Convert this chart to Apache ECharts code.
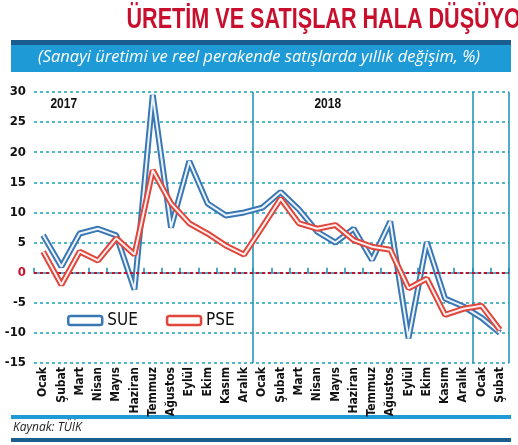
<!DOCTYPE html>
<html><head><meta charset="utf-8">
<script src="https://cdn.jsdelivr.net/npm/echarts@6/dist/echarts.min.js"></script>
<style>html,body{margin:0;padding:0;background:#fff}#c{width:518px;height:445px}</style>
</head><body><div id="c"></div>
<script>
const months = ['Ocak','Şubat','Mart','Nisan','Mayıs','Haziran','Temmuz','Ağustos','Eylül','Ekim','Kasım','Aralık',
 'Ocak','Şubat','Mart','Nisan','Mayıs','Haziran','Temmuz','Ağustos','Eylül','Ekim','Kasım','Aralık','Ocak','Şubat'];
const sue = [6.2,1,6.5,7.3,6.2,-2.8,29.5,7.5,18.5,11.5,9.5,10,10.8,13.4,10.5,6.8,5,7.3,2.1,8.5,-10.9,5.1,-4.3,-5.6,-7.5,-10];
const pse = [3.5,-2,3.5,2,5.7,3,17,11.5,8.2,6.5,4.5,3,7.6,12.3,8.2,7.3,7.9,5.4,4.3,3.8,-2.6,-1,-7,-6,-5.5,-9.5];
const yTicks = [-15,30,5];
const years = ['2017','2018','2019'];
const cond = '"DejaVu Sans Condensed", "Liberation Sans", sans-serif';
const chart = echarts.init(document.getElementById('c'));
chart.setOption({
  animation:false,
  graphic:[
    {type:'text',x:259,y:5,originX:259,scaleX:0.72,style:{text:'ÜRETİM VE SATIŞLAR HALA DÜŞÜYOR',align:'center',fill:'#c8102e',font:'bold 30px "Liberation Sans", sans-serif'}},
    {type:'rect',shape:{x:11,y:40,width:500,height:5},style:{fill:'#1a5e8f'}},
    {type:'rect',shape:{x:11,y:45,width:500,height:27},style:{fill:'#1e9bd7'}},
    {type:'text',left:'center',top:49,style:{text:'(Sanayi üretimi ve reel perakende satışlarda yıllık değişim, %)',fill:'#fff',font:'italic 16.5px "Open Sans", sans-serif'}},
    {type:'text',x:42,y:96,scaleX:0.8,originX:42,style:{text:years[0],fill:'#111',font:'bold 15px "Liberation Sans", sans-serif'}},
    {type:'text',x:262,y:96,scaleX:0.8,originX:262,style:{text:years[1],fill:'#111',font:'bold 15px "Liberation Sans", sans-serif'}},
    {type:'text',x:478,y:96,scaleX:0.8,originX:478,style:{text:years[2],fill:'#111',font:'bold 15px "Liberation Sans", sans-serif'}},
    {type:'rect',shape:{x:11,y:415,width:500,height:4},style:{fill:'#1e9bd7'}},
    {type:'text',left:13,top:422,style:{text:'Kaynak: TÜİK',fill:'#222',font:'italic 12px "Open Sans", sans-serif'}},
    {type:'rect',shape:{x:11,y:438,width:500,height:4},style:{fill:'#1a5e8f'}}
  ],
  legend:{left:62,top:307,itemGap:28,itemWidth:34,itemHeight:9,icon:'roundRect',
    textStyle:{fontFamily:cond,fontSize:17,color:'#111'},
    data:[{name:'SUE',itemStyle:{color:'#fff',borderColor:'#3a78b5',borderWidth:2.5}},
          {name:'PSE',itemStyle:{color:'#fff',borderColor:'#e0463c',borderWidth:2.5}}]},
  grid:{left:34,right:9,top:92,bottom:82},
  xAxis:{type:'category',data:months,boundaryGap:true,
    axisLine:{show:true,lineStyle:{color:'#1a8fb5',type:'dashed',width:1.5}},
    axisTick:{show:true,inside:true,length:5,lineStyle:{color:'#1a8fb5',width:1.5}},
    axisLabel:{rotate:90,interval:0,color:'#111',fontFamily:cond,fontSize:12,fontWeight:'bold',margin:4},
    splitLine:{show:true,interval:(i)=>i===12||i===24,lineStyle:{color:'#1a8fb5',width:1.5}}},
  yAxis:{type:'value',min:yTicks[0],max:yTicks[1],interval:yTicks[2],
    axisLine:{show:false},axisTick:{show:false},
    axisLabel:{color:'#111',fontFamily:cond,fontSize:13,fontWeight:'bold',margin:8,
      formatter:v=>v===0?'{r|0}':String(v),rich:{r:{color:'#c8102e',fontFamily:cond,fontSize:13,fontWeight:'bold'}}},
    splitLine:{lineStyle:{color:'#1aa0b8',type:[3,3],width:1.5}}},
  series:[
    {name:'SUE',type:'line',data:sue,symbol:'none',z:3,lineStyle:{color:'#3a78b5',width:6},itemStyle:{color:'#3a78b5'},
     markLine:{silent:true,symbol:'none',label:{show:false},lineStyle:{color:'#c8102e',type:[3,3],width:2},data:[{yAxis:0}]}},
    {name:'SUE_in',type:'line',data:sue,symbol:'none',z:4,lineStyle:{color:'#eef4fb',width:2}},
    {name:'PSE',type:'line',data:pse,symbol:'none',z:5,lineStyle:{color:'#e0463c',width:6},itemStyle:{color:'#e0463c'}},
    {name:'PSE_in',type:'line',data:pse,symbol:'none',z:6,lineStyle:{color:'#fdf0ee',width:2}}
  ]
});
</script></body></html>
